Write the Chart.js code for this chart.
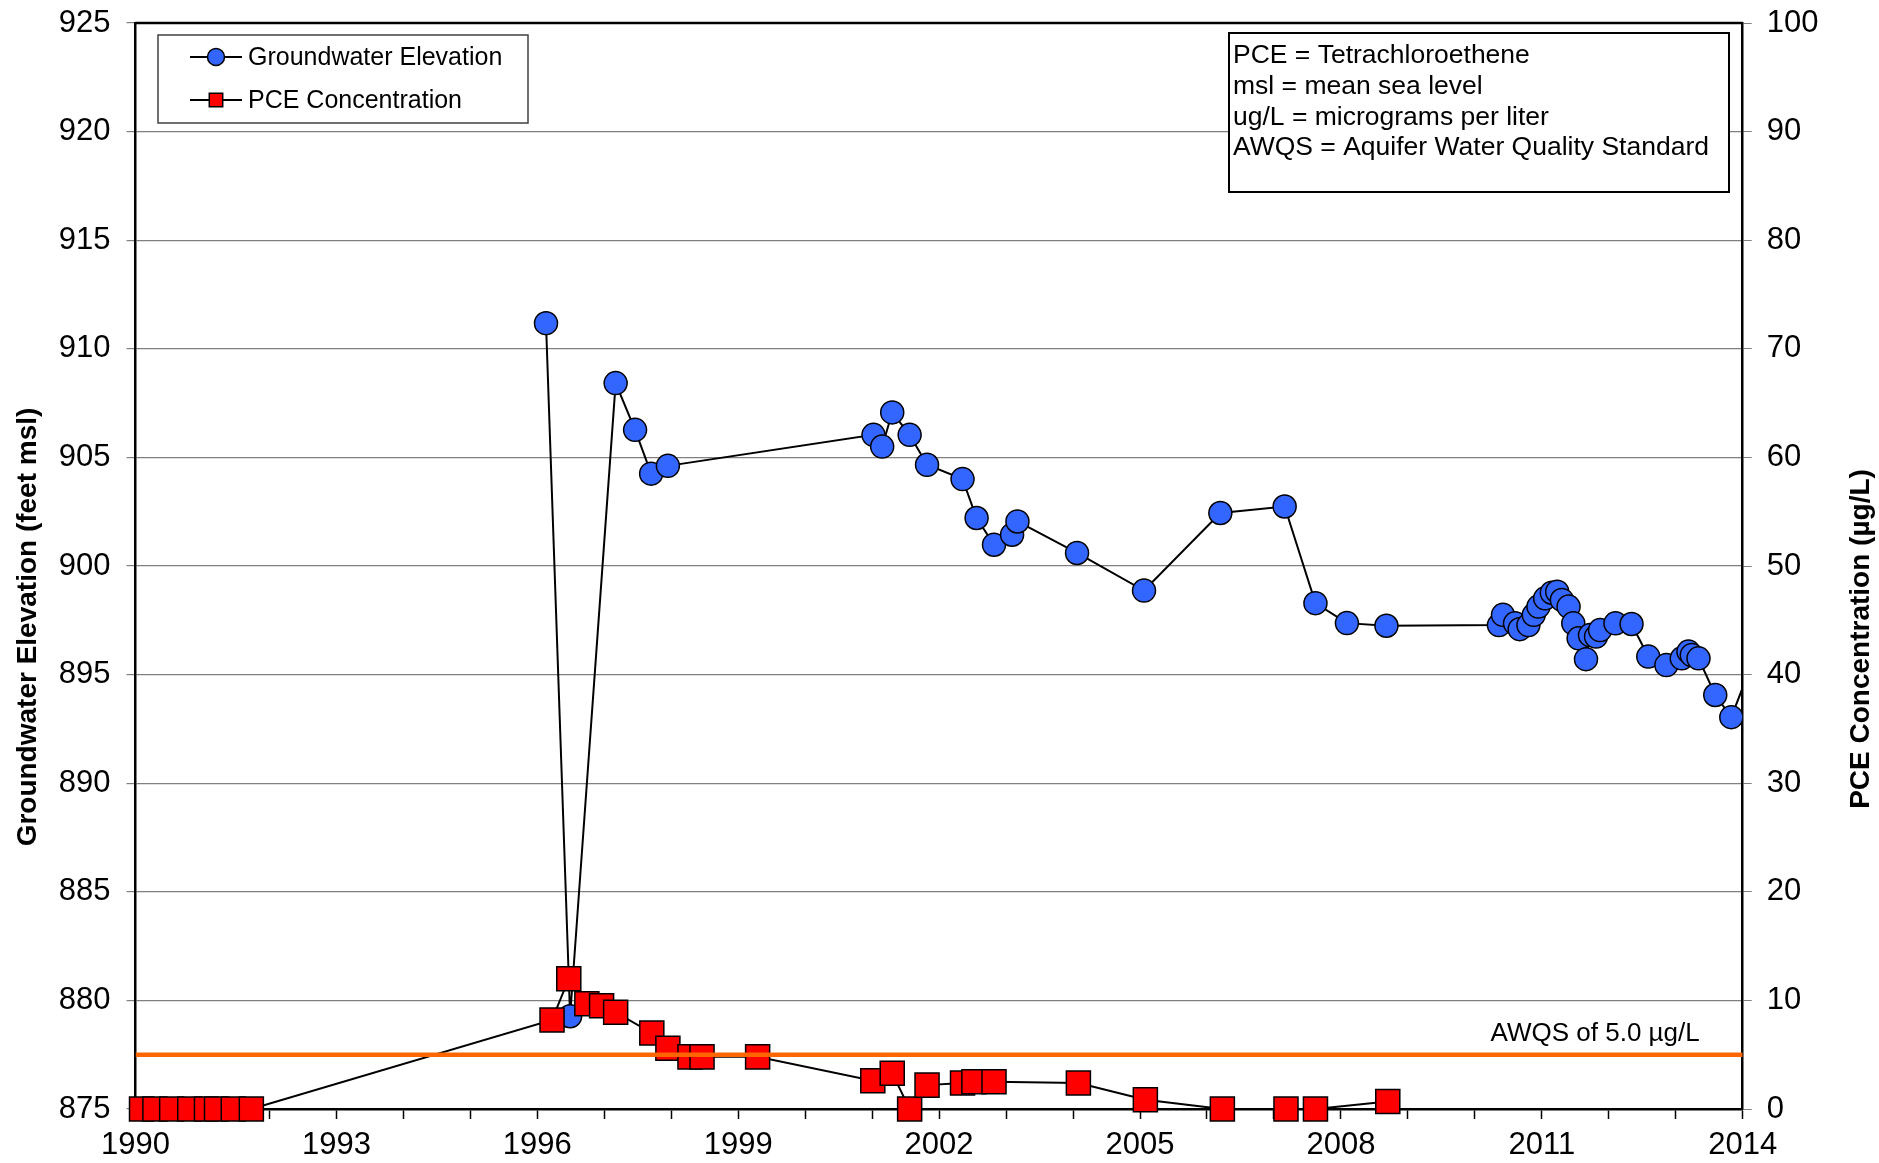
<!DOCTYPE html>
<html>
<head>
<meta charset="utf-8">
<script src="https://cdn.jsdelivr.net/npm/chart.js@4.4.0/dist/chart.umd.min.js"></script>
<style>
  body { margin: 0; background: #fff; }
</style>
</head>
<body>
<canvas id="chart" width="1879" height="1163"></canvas>
<script>
// groundwater elevation (feet msl) by decimal year
const gw_years = [1996.13, 1996.49, 1997.17, 1997.46, 1997.70, 1997.95, 2001.02, 2001.15, 2001.30, 2001.56,
                  2001.82, 2002.35, 2002.56, 2002.82, 2003.09, 2003.17, 2004.06, 2005.06, 2006.20, 2007.16,
                  2007.62, 2008.09, 2008.68, 2010.36, 2010.42, 2010.60, 2010.67, 2010.80, 2010.88, 2010.95,
                  2011.05, 2011.15, 2011.23, 2011.30, 2011.40, 2011.47, 2011.55, 2011.66, 2011.72, 2011.81,
                  2011.87, 2012.10, 2012.34, 2012.59, 2012.86, 2013.09, 2013.19, 2013.24, 2013.34, 2013.59,
                  2013.83, 2014.25];
const gw_elev = [911.18, 879.27, 908.42, 906.27, 904.25, 904.61, 906.04, 905.50, 907.07, 906.04,
                 904.66, 904.00, 902.21, 900.98, 901.44, 902.05, 900.60, 898.87, 902.44, 902.74,
                 898.29, 897.37, 897.25, 897.28, 897.75, 897.36, 897.09, 897.28, 897.75, 898.13,
                 898.51, 898.77, 898.82, 898.44, 898.13, 897.36, 896.67, 895.71, 896.82, 896.75,
                 897.05, 897.36, 897.33, 895.83, 895.44, 895.75, 896.06, 895.90, 895.75, 894.06,
                 893.04, 896.40];

// PCE concentration (ug/L)
const pce_years = [1990.09, 1990.29, 1990.54, 1990.81, 1991.06, 1991.21, 1991.46, 1991.73,
                   1996.22, 1996.47, 1996.74, 1996.96, 1997.17, 1997.71, 1997.95, 1998.28, 1998.46, 1999.29,
                   2001.01, 2001.30, 2001.56, 2001.82, 2002.35, 2002.52, 2002.82, 2004.08,
                   2005.08, 2006.23, 2007.18, 2007.62, 2008.70];
const pce_conc = [0, 0, 0, 0, 0, 0, 0, 0,
                  8.2, 12.0, 9.7, 9.5, 8.9, 7.0, 5.6, 4.8, 4.8, 4.8,
                  2.6, 3.3, 0, 2.2, 2.4, 2.5, 2.5, 2.4,
                  0.85, 0, 0, 0, 0.7];

const awqs_level = 5.0;
const year_range = [1990, 2014];
const elev_range = [875, 925];
const conc_range = [0, 100];

const series_names = ['Groundwater Elevation', 'PCE Concentration'];
const axis_titles = ['Groundwater Elevation (feet msl)', 'PCE Concentration (\u00b5g/L)'];
const awqs_label = 'AWQS of 5.0 \u00b5g/L';
const note_lines = [
    'PCE = Tetrachloroethene',
    'msl = mean sea level',
    'ug/L = micrograms per liter',
    'AWQS = Aquifer Water Quality Standard'
];

const FONT = "'Liberation Sans', Arial, sans-serif";
Chart.defaults.font.family = FONT;
Chart.defaults.color = '#000';

function to_points(xs, ys)
{
    return xs.map((x, i) => ({x: x, y: ys[i]}));
}

// keep the plot frame where the reference has it
function fix_side(s, size)
{
    if (s.isHorizontal()) { s.height = size; s.paddingLeft = 0; s.paddingRight = 0; }
    else { s.width = size; s.paddingTop = 0; s.paddingBottom = 0; }
}

// frame, legend, notes, titles
const extras = {
    id: 'extras',
    afterDraw(chart)
    {
        const ctx = chart.ctx;
        const area = chart.chartArea;
        const y2 = chart.scales.y2;

        ctx.save();
        // top frame line
        ctx.strokeStyle = '#000';
        ctx.lineWidth = 2.5;
        ctx.beginPath();
        ctx.moveTo(area.left, area.top);
        ctx.lineTo(area.right, area.top);
        ctx.stroke();

        // legend box
        ctx.fillStyle = '#fff';
        ctx.fillRect(158, 35, 370, 88);
        ctx.strokeStyle = '#404040';
        ctx.lineWidth = 1.5;
        ctx.strokeRect(158, 35, 370, 88);

        const rows = [
            {ds: chart.data.datasets[2], y: 57, r: 8.5},
            {ds: chart.data.datasets[1], y: 100, r: 9.5}
        ];
        rows.forEach(row => {
            ctx.strokeStyle = '#000';
            ctx.lineWidth = 2;
            ctx.beginPath();
            ctx.moveTo(190, row.y);
            ctx.lineTo(242, row.y);
            ctx.stroke();
            ctx.fillStyle = row.ds.pointBackgroundColor;
            ctx.strokeStyle = row.ds.pointBorderColor;
            ctx.lineWidth = 1.5;
            Chart.helpers.drawPoint(ctx, {pointStyle: row.ds.pointStyle, radius: row.r, borderWidth: 1.5}, 216, row.y);
            ctx.fillStyle = '#000';
            ctx.font = '25px ' + FONT;
            ctx.textAlign = 'left';
            ctx.textBaseline = 'middle';
            ctx.fillText(row.ds.label, 248, row.y + 1);
        });

        // notes box
        ctx.fillStyle = '#fff';
        ctx.fillRect(1229, 33, 500, 159);
        ctx.strokeStyle = '#000';
        ctx.lineWidth = 2;
        ctx.strokeRect(1229, 33, 500, 159);
        ctx.fillStyle = '#000';
        ctx.font = '26.5px ' + FONT;
        ctx.textAlign = 'left';
        ctx.textBaseline = 'alphabetic';
        note_lines.forEach((t, i) => ctx.fillText(t, 1233, 63 + i * 30.8));

        // AWQS label
        ctx.font = '26px ' + FONT;
        ctx.textAlign = 'right';
        ctx.fillText(awqs_label, area.right - 43, y2.getPixelForValue(awqs_level) - 14);

        // axis titles
        ctx.font = 'bold 28px ' + FONT;
        ctx.textAlign = 'center';
        ctx.textBaseline = 'middle';
        ctx.save();
        ctx.translate(28, 627);
        ctx.rotate(-Math.PI / 2);
        ctx.fillText(axis_titles[0], 0, 0);
        ctx.restore();
        ctx.save();
        ctx.translate(1861, 639);
        ctx.rotate(-Math.PI / 2);
        ctx.fillText(axis_titles[1], 0, 0);
        ctx.restore();

        ctx.restore();
    }
};

var ctx = document.getElementById('chart').getContext('2d');

var myChart = new Chart(ctx, {
    type: 'line',
    data: {
        datasets: [
            {
                label: 'AWQS',
                data: [{x: year_range[0], y: awqs_level}, {x: year_range[1], y: awqs_level}],
                yAxisID: 'y2',
                borderColor: '#FF6600',
                borderWidth: 4.5,
                pointRadius: 0,
                order: 0
            },
            {
                label: series_names[1],
                data: to_points(pce_years, pce_conc),
                yAxisID: 'y2',
                borderColor: '#000',
                borderWidth: 2,
                pointStyle: 'rect',
                pointRadius: 17,
                pointBackgroundColor: '#FF0000',
                pointBorderColor: '#000',
                pointBorderWidth: 1.5,
                clip: {left: 20, top: 0, right: 0, bottom: 20},
                order: 1
            },
            {
                label: series_names[0],
                data: to_points(gw_years, gw_elev),
                yAxisID: 'y',
                borderColor: '#000',
                borderWidth: 2,
                pointStyle: 'circle',
                pointRadius: 11.5,
                pointBackgroundColor: '#3366FF',
                pointBorderColor: '#000',
                pointBorderWidth: 1.5,
                clip: {left: 0, top: 20, right: 0, bottom: 0},
                order: 2
            }
        ]
    },
    options: {
        responsive: false,
        animation: false,
        events: [],
        layout: { padding: {top: 23, left: 0, right: 0, bottom: 0} },
        elements: { line: { tension: 0 } },
        plugins: {
            legend: { display: false },
            tooltip: { enabled: false }
        },
        scales: {
            x: {
                type: 'linear',
                position: 'bottom',
                min: year_range[0],
                max: year_range[1],
                ticks: {
                    stepSize: 1,
                    autoSkip: false,
                    maxRotation: 0,
                    padding: 8,
                    font: { size: 31 },
                    callback: v => ((v - year_range[0]) % 3 === 0 ? String(v) : '')
                },
                grid: { drawOnChartArea: false, tickLength: 10, tickColor: '#000', tickWidth: 1.5 },
                border: { color: '#000', width: 2.5 },
                afterFit: s => fix_side(s, 54)
            },
            y: {
                position: 'left',
                min: elev_range[0],
                max: elev_range[1],
                ticks: { stepSize: 5, padding: 16, font: { size: 31 } },
                grid: { color: '#808080', lineWidth: 1.2, tickLength: 9, tickColor: '#808080' },
                border: { color: '#000', width: 2.5 },
                afterFit: s => fix_side(s, 135.5)
            },
            y2: {
                position: 'right',
                min: conc_range[0],
                max: conc_range[1],
                ticks: { stepSize: 10, padding: 15, font: { size: 31 } },
                grid: { drawOnChartArea: false, tickLength: 9, tickColor: '#808080' },
                border: { color: '#000', width: 2.5 },
                afterFit: s => fix_side(s, 136.3)
            }
        }
    },
    plugins: [extras]
});
</script>
</body>
</html>
